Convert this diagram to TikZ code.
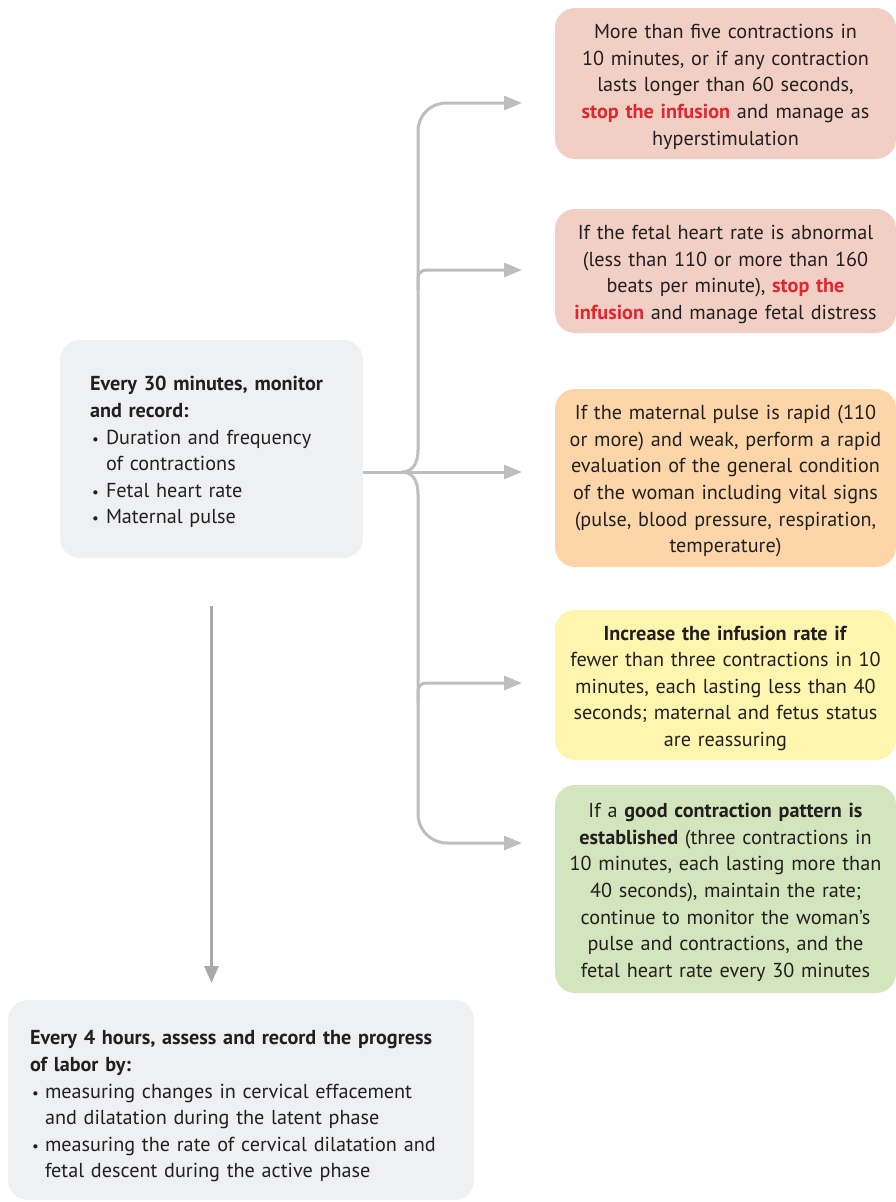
\documentclass[tikz,border=0pt]{standalone}
\usepackage{fontspec}
\setmainfont{PT Sans}
\usetikzlibrary{arrows.meta}
\definecolor{txt}{HTML}{231F20}
\definecolor{pinkc}{HTML}{F2CFC4}
\definecolor{orangec}{HTML}{FCD6A9}
\definecolor{yellowc}{HTML}{FEF6AF}
\definecolor{greenc}{HTML}{D3E5BC}
\definecolor{grayc}{HTML}{EFF0F2}
\definecolor{redc}{HTML}{E0262F}
\definecolor{linec}{HTML}{BCBEC0}
\definecolor{linec2}{HTML}{A7A9AC}
\newcommand{\stopinf}[1]{\textbf{\textcolor{redc}{#1}}}
\newcommand{\smallblt}{{\fontsize{15}{15}\selectfont•}}
\newcommand{\blta}{\makebox[16pt][l]{\hspace{2pt}\smallblt}}
\newcommand{\bltb}{\makebox[15pt][l]{\hspace{2pt}\smallblt}}
\newcommand{\tops}[1]{\rule{0pt}{#1}}
\begin{document}
\begin{tikzpicture}[x=1pt,y=-1pt,
  box/.style={rounded corners=20pt, inner sep=0pt, text=txt,
    font=\fontsize{20.2}{26.6}\selectfont},
  rbox/.style={box, align=center, text width=336pt, minimum width=341pt},
  conn/.style={draw=linec, line width=3pt, -{Triangle[length=18pt,width=14pt]}},
  plain/.style={draw=linec, line width=3pt},
  conn2/.style={draw=linec2, line width=3pt, -{Triangle[length=17pt,width=14pt]}}]
\useasboundingbox (0,0) rectangle (896,1202);

\node[rbox, fill=pinkc, minimum height=151pt] (A) at (725.5,83.5)
 {\tops{21pt}More than five contractions in\\ 10 minutes, or if any contraction\\ lasts longer than 60 seconds,\\ \stopinf{stop the infusion} and manage as\\ hyperstimulation};
\node[rbox, fill=pinkc, minimum height=124pt] (B) at (725.5,271)
 {\tops{21pt}If the fetal heart rate is abnormal\\ (less than 110 or more than 160\\ beats per minute), \stopinf{stop the}\\ \stopinf{infusion} and manage fetal distress};
\node[rbox, fill=orangec, minimum height=178pt] (C) at (725.5,478)
 {\tops{21pt}If the maternal pulse is rapid (110\\ or more) and weak, perform a rapid\\ evaluation of the general condition\\ of the woman including vital signs\\ (pulse, blood pressure, respiration,\\ temperature)};
\node[rbox, fill=yellowc, minimum height=150pt] (D) at (725.5,685)
 {\tops{21pt}\textbf{Increase the infusion rate if}\\ fewer than three contractions in 10\\ minutes, each lasting less than 40\\ seconds; maternal and fetus status\\ are reassuring};
\node[rbox, fill=greenc, minimum height=208pt] (E) at (725.5,889)
 {\tops{21pt}If a \textbf{good contraction pattern is}\\ \textbf{established} (three contractions in\\ 10 minutes, each lasting more than\\ 40 seconds), maintain the rate;\\ continue to monitor the woman’s\\ pulse and contractions, and the\\ fetal heart rate every 30 minutes};

\node[box, fill=grayc, align=left, text width=243pt, minimum width=303pt, minimum height=218pt] (L) at (211.5,449)
 {\tops{21pt}\textbf{Every 30 minutes, monitor}\\ \textbf{and record:}\\ \blta Duration and frequency\\ \hspace*{16pt}of contractions\\ \blta Fetal heart rate\\ \blta Maternal pulse};

\node[box, fill=grayc, align=left, text width=422pt, minimum width=466pt, minimum height=200pt] (P) at (241,1100)
 {\tops{27pt}\textbf{Every 4 hours, assess and record the progress}\\ \textbf{of labor by:}\\ \bltb measuring changes in cervical effacement\\ \hspace*{15pt}and dilatation during the latent phase\\ \bltb measuring the rate of cervical dilatation and\\ \hspace*{15pt}fetal descent during the active phase};

% coordinates
\coordinate (j) at (402,472);
\coordinate (su) at (418,450);
\coordinate (sd) at (418,494);
\coordinate (sb) at (418,290);
\coordinate (sdd) at (418,703);
\coordinate (ta) at (522,103);
\coordinate (tb) at (522,270);
\coordinate (tc) at (522,472);
\coordinate (td) at (522,683);
\coordinate (te) at (522,843);
\coordinate (d1) at (211.5,606);
\coordinate (d2) at (211.5,983);

% connectors
\draw[conn, rounded corners=28pt] (su) |- (ta);
\draw[conn, rounded corners=29pt] (sd) |- (te);
\draw[conn, rounded corners=8pt] (sb) |- (tb);
\draw[conn, rounded corners=8pt] (sdd) |- (td);
\draw[conn] (L.east |- j) -- (tc);
\draw[plain] (j) .. controls (412,472) and (418,464) .. (su);
\draw[plain] (j) .. controls (412,472) and (418,480) .. (sd);
\draw[conn2] (d1) -- (d2);
\end{tikzpicture}
\end{document}
